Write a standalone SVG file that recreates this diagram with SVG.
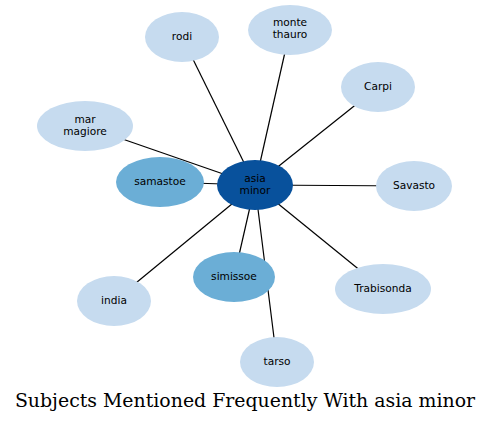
<svg xmlns="http://www.w3.org/2000/svg" width="491" height="423" viewBox="0 0 491 423">
<style>
.e{stroke:#000;stroke-width:1.2;fill:none}
.l{fill:#c6dbef}
.m{fill:#6baed6}
.c{fill:#08519c}
text{font-family:"DejaVu Sans",sans-serif;font-size:10.6px;text-anchor:middle;fill:#000}
.t{font-family:"DejaVu Serif",serif;font-size:18.9px}
</style>
<rect width="491" height="423" fill="#fff"/>
<g id="edges">
<line class="e" x1="255" y1="185" x2="182" y2="37"/>
<line class="e" x1="255" y1="185" x2="290" y2="30"/>
<line class="e" x1="255" y1="185" x2="378" y2="87"/>
<line class="e" x1="255" y1="185" x2="85" y2="126"/>
<line class="e" x1="255" y1="185" x2="160" y2="182"/>
<line class="e" x1="255" y1="185" x2="414" y2="186"/>
<line class="e" x1="255" y1="185" x2="234" y2="277"/>
<line class="e" x1="255" y1="185" x2="114" y2="301"/>
<line class="e" x1="255" y1="185" x2="383" y2="289"/>
<line class="e" x1="255" y1="185" x2="277" y2="362"/>
</g>
<g id="rodi"><ellipse class="l" cx="182" cy="37" rx="37" ry="25"/><text x="182" y="40">rodi</text></g>
<g id="monte_thauro"><ellipse class="l" cx="290" cy="30" rx="42" ry="25"/><text x="290" y="26">monte</text><text x="290" y="38">thauro</text></g>
<g id="Carpi"><ellipse class="l" cx="378" cy="87" rx="37" ry="25"/><text x="378" y="90">Carpi</text></g>
<g id="mar_magiore"><ellipse class="l" cx="85" cy="126" rx="48" ry="25"/><text x="85" y="123">mar</text><text x="85" y="135">magiore</text></g>
<g id="samastoe"><ellipse class="m" cx="160" cy="182" rx="44" ry="25"/><text x="160" y="185">samastoe</text></g>
<g id="Savasto"><ellipse class="l" cx="414" cy="186" rx="38" ry="25"/><text x="414" y="189">Savasto</text></g>
<g id="simissoe"><ellipse class="m" cx="234" cy="277" rx="41" ry="25"/><text x="234" y="280">simissoe</text></g>
<g id="india"><ellipse class="l" cx="114" cy="301" rx="37" ry="25"/><text x="114" y="304">india</text></g>
<g id="Trabisonda"><ellipse class="l" cx="383" cy="289" rx="48" ry="25"/><text x="383" y="292">Trabisonda</text></g>
<g id="tarso"><ellipse class="l" cx="277" cy="362" rx="37" ry="25"/><text x="277" y="365">tarso</text></g>
<g id="asia_minor"><ellipse class="c" cx="255" cy="185" rx="38" ry="25"/><text x="255" y="182">asia</text><text x="255" y="194">minor</text></g>
<text class="t" x="245" y="407">Subjects Mentioned Frequently With asia minor</text>
</svg>
